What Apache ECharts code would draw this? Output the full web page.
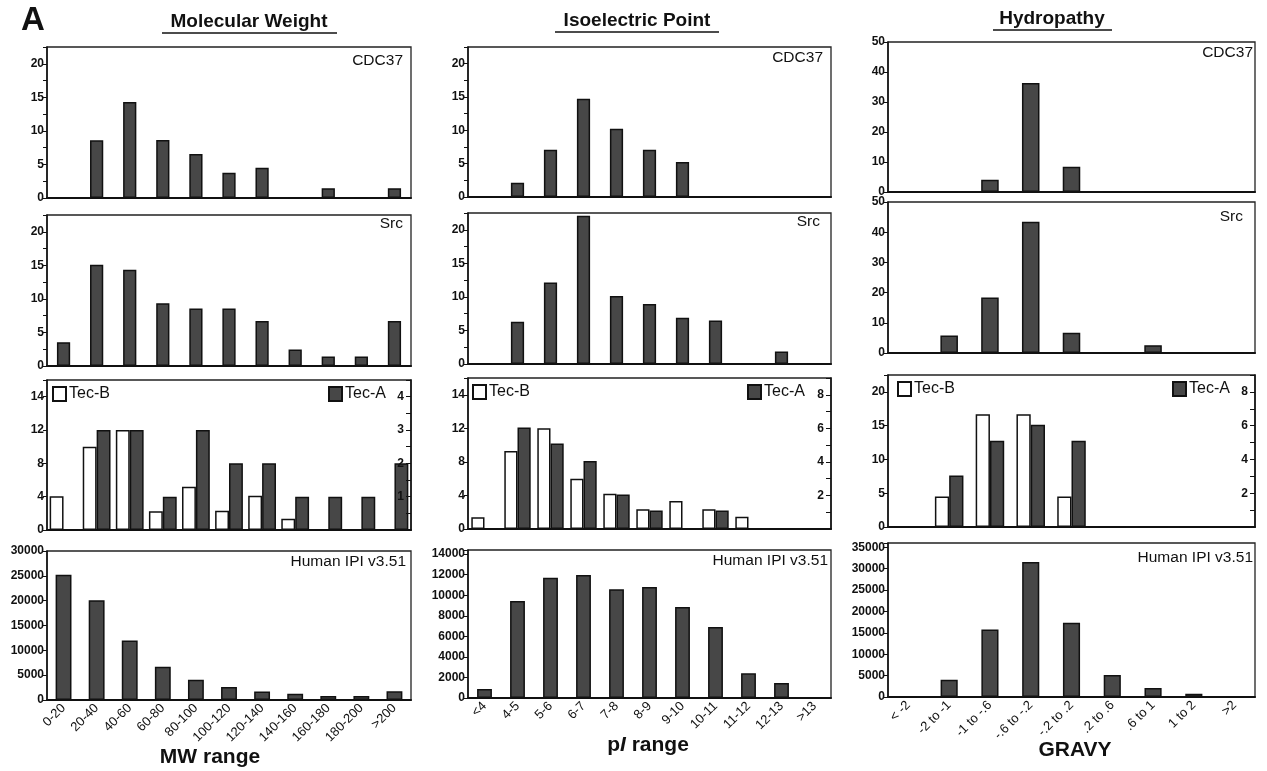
<!DOCTYPE html>
<html>
<head>
<meta charset="utf-8">
<script src="https://cdn.jsdelivr.net/npm/echarts@6/dist/echarts.min.js"></script>
<style>html,body{margin:0;padding:0;background:#fff;}#c{width:1267px;height:771px;}</style>
</head>
<body>
<div id="c"></div>
<script>
// ---------- DATA ----------
const mwCats = ['0-20','20-40','40-60','60-80','80-100','100-120','120-140','140-160','160-180','180-200','>200'];
const mwCdc37 = [0, 8.6, 14.3, 8.65, 6.55, 3.75, 4.5, 0, 1.45, 0, 1.45];
const mwSrc = [3.55, 15.1, 14.35, 9.35, 8.55, 8.55, 6.7, 2.45, 1.4, 1.4, 6.7];
const mwTecB = [4.05, 10, 12, 2.25, 5.2, 2.3, 4.1, 1.35, 0, 0, 0];
const mwTecA = [0, 3, 3, 1, 3, 2, 2, 1, 1, 1, 2];
const mwIpi = [25200, 20100, 12000, 6700, 4100, 2600, 1700, 1250, 800, 800, 1750];

const piCats = ['<4','4-5','5-6','6-7','7-8','8-9','9-10','10-11','11-12','12-13','>13'];
const piCdc37 = [0, 2.15, 7.1, 14.75, 10.25, 7.1, 5.25, 0, 0, 0, 0];
const piSrc = [0, 6.3, 12.15, 22.1, 10.15, 8.95, 6.9, 6.5, 0, 1.85, 0];
const piTecB = [1.4, 9.3, 12, 6, 4.2, 2.35, 3.35, 2.35, 1.45, 0, 0];
const piTecA = [0, 6.05, 5.1, 4.05, 2.05, 1.1, 0, 1.1, 0, 0, 0];
const piIpi = [875, 9430, 11700, 11960, 10570, 10790, 8850, 6900, 2400, 1460, 0];

const gvCats = ['< -2','-2 to -1','-1 to -.6','-.6 to -.2','-.2 to .2','.2 to .6','.6 to 1','1 to 2','>2'];
const gvCdc37 = [0, 0, 4.1, 36.3, 8.4, 0, 0, 0, 0];
const gvSrc = [0, 5.8, 18.4, 43.5, 6.7, 0, 2.6, 0, 0];
const gvTecB = [0, 4.5, 16.7, 16.7, 4.5, 0, 0, 0, 0];
const gvTecA = [0, 3.05, 5.1, 6.05, 5.1, 0, 0, 0, 0];
const gvIpi = [0, 4060, 15780, 31560, 17340, 5160, 2110, 780, 0];

const columnTitles = ['Molecular Weight', 'Isoelectric Point', 'Hydropathy'];
const panelLabels = ['CDC37', 'Src', 'Human IPI v3.51'];
const tecLeftTickValues = [0, 4, 8, 12, 16];
const tecLeftTickLabels = ['0', '4', '8', '12', '14'];

// ---------- LAYOUT ----------
const FONT = "'Liberation Sans', Arial, sans-serif";
const cols = [
  {left: 47, width: 364, rows: [{top:47,h:151},{top:215,h:151},{top:380,h:150},{top:551,h:149}], bw: '40%', bw4: '48%', bw3: '42%'},
  {left: 468, width: 363, rows: [{top:47,h:150},{top:213,h:151},{top:378,h:151},{top:550,h:148}], bw: '40%', bw4: '45%', bw3: '40%'},
  {left: 888, width: 367, rows: [{top:42,h:150},{top:202,h:151},{top:375,h:152},{top:543,h:154}], bw: '43%', bw4: '42%', bw3: '35%'}
];
const colData = [
  {cats: mwCats, cdc: mwCdc37, src: mwSrc, tecB: mwTecB, tecA: mwTecA, ipi: mwIpi},
  {cats: piCats, cdc: piCdc37, src: piSrc, tecB: piTecB, tecA: piTecA, ipi: piIpi},
  {cats: gvCats, cdc: gvCdc37, src: gvSrc, tecB: gvTecB, tecA: gvTecA, ipi: gvIpi}
];
// y-axis scale setup per column: [row1/2, row3 left, row3 right, row4]
const yScales = [
  [{max:22.5, interval:2.5, every:5}, {max:18, interval:4, every:4, map:true}, {max:4.5, interval:0.5, every:1}, {max:30000, interval:5000, every:5000}],
  [{max:22.5, interval:2.5, every:5}, {max:18, interval:4, every:4, map:true}, {max:9, interval:1, every:2}, {max:14400, interval:2000, every:2000}],
  [{max:50, interval:10, every:10}, {max:22.5, interval:5, every:5}, {max:9, interval:1, every:2}, {max:36000, interval:5000, every:5000}]
];

function fmt(sc, hideZero) {
  return function (v) {
    if (v > sc.max - 1e-9 && Math.abs(sc.max / sc.every - Math.round(sc.max / sc.every)) > 1e-6) return '';
    if (Math.abs(v / sc.every - Math.round(v / sc.every)) > 1e-6) return '';
    if (hideZero && v === 0) return '';
    if (sc.map) {
      const i = tecLeftTickValues.indexOf(v);
      return i >= 0 ? tecLeftTickLabels[i] : '';
    }
    return String(v);
  };
}

const grids = [], xAxes = [], yAxes = [], series = [], graphics = [];
const darkStyle = {color: '#474747', borderColor: '#111', borderWidth: 1.5};
const whiteStyle = {color: '#ffffff', borderColor: '#111', borderWidth: 1.5};

cols.forEach((c, ci) => {
  const d = colData[ci];
  c.rows.forEach((r, ri) => {
    const gi = grids.length;
    grids.push({left: c.left, top: r.top, width: c.width, height: r.h, show: true,
      borderColor: '#222', borderWidth: 1.3, backgroundColor: 'transparent', containLabel: false});
    xAxes.push({type: 'category', gridIndex: gi, data: d.cats,
      axisLine: {lineStyle: {color: '#111', width: 2}}, axisTick: {show: false},
      axisLabel: ri === 3 ? {show: true, interval: 0, rotate: 45, fontSize: 13, color: '#111', fontFamily: FONT, margin: 6} : {show: false},
      splitLine: {show: false}});
    const sc = ri < 2 ? yScales[ci][0] : (ri === 2 ? yScales[ci][1] : yScales[ci][3]);
    yAxes.push({type: 'value', gridIndex: gi, min: 0, max: sc.max, interval: sc.interval,
      axisLine: {show: true, lineStyle: {color: '#111', width: 1.5}},
      axisTick: {show: true, length: 4, lineStyle: {color: '#111'}},
      axisLabel: {formatter: fmt(sc, false), fontSize: 12, fontWeight: 'bold', color: '#111', fontFamily: FONT, margin: 3,
        showMaxLabel: true},
      splitLine: {show: false}});
  });
});
// right axes for Tec-A
cols.forEach((c, ci) => {
  const sc = yScales[ci][2];
  yAxes.push({type: 'value', gridIndex: ci * 4 + 2, position: 'right', min: 0, max: sc.max, interval: sc.interval, z: 10,
    axisLine: {show: true, lineStyle: {color: '#111', width: 1.5}},
    axisTick: {show: true, inside: true, length: 5, lineStyle: {color: '#111'}},
    axisLabel: {inside: true, formatter: fmt(sc, true), fontSize: 12, fontWeight: 'bold', color: '#111', fontFamily: FONT, margin: 7},
    splitLine: {show: false}});
});

cols.forEach((c, ci) => {
  const d = colData[ci];
  const base = ci * 4;
  series.push({type: 'bar', name: 'CDC37', xAxisIndex: base, yAxisIndex: base, data: d.cdc, barWidth: c.bw, itemStyle: darkStyle});
  series.push({type: 'bar', name: 'Src', xAxisIndex: base + 1, yAxisIndex: base + 1, data: d.src, barWidth: c.bw, itemStyle: darkStyle});
  series.push({type: 'bar', name: 'Tec-B', xAxisIndex: base + 2, yAxisIndex: base + 2, data: d.tecB, barWidth: c.bw3, barGap: '0%', itemStyle: whiteStyle});
  series.push({type: 'bar', name: 'Tec-A', xAxisIndex: base + 2, yAxisIndex: 12 + ci, data: d.tecA, barWidth: c.bw3, barGap: '0%', itemStyle: darkStyle});
  series.push({type: 'bar', name: 'Human IPI v3.51', xAxisIndex: base + 3, yAxisIndex: base + 3, data: d.ipi, barWidth: c.bw4, itemStyle: darkStyle});
});

// Text: big letter, column titles with underline, panel labels, axis names
function txt(x, y, text, size, weight, align, extra) {
  const st = Object.assign({text: text, x: 0, y: 0, fill: '#111', font: (weight || 'normal') + ' ' + size + 'px ' + FONT,
    textAlign: align || 'left', align: align || 'left', textVerticalAlign: 'middle', verticalAlign: 'middle'}, extra || {});
  return {type: 'text', x: x, y: y, style: st, z: 100};
}
graphics.push(txt(21, 21, 'A', 33, 'bold', 'left'));
const titlePos = [{x: 249, y: 22, u0: 162, u1: 337, uy: 33}, {x: 637, y: 21, u0: 555, u1: 719, uy: 32}, {x: 1052, y: 19, u0: 993, u1: 1112, uy: 30}];
titlePos.forEach((p, i) => {
  graphics.push(txt(p.x, p.y, columnTitles[i], 19, 'bold', 'center'));
  graphics.push({type: 'line', shape: {x1: p.u0, y1: p.uy, x2: p.u1, y2: p.uy}, style: {stroke: '#111', lineWidth: 1.6}, z: 100});
});
const labelPos = [
  [{x: 403, y: 61}, {x: 403, y: 224}, {x: 406, y: 562}],
  [{x: 823, y: 58}, {x: 820, y: 222}, {x: 828, y: 561}],
  [{x: 1253, y: 53}, {x: 1243, y: 217}, {x: 1253, y: 558}]
];
labelPos.forEach(col => col.forEach((p, i) => graphics.push(txt(p.x, p.y, panelLabels[i], 15.5, 'normal', 'right'))));
graphics.push(txt(210, 757, 'MW range', 21, 'bold', 'center'));
graphics.push({type: 'text', x: 648, y: 745, z: 100, style: {text: '{a|p}{b|I}{a| range}', x: 0, y: 0, textAlign: 'center', align: 'center',
  textVerticalAlign: 'middle', verticalAlign: 'middle', fill: '#111',
  rich: {a: {font: 'bold 21px ' + FONT, fill: '#111'}, b: {font: 'italic bold 21px ' + FONT, fill: '#111'}}}});
graphics.push(txt(1075, 750, 'GRAVY', 21, 'bold', 'center'));

const legendPos = [
  {b: 52, a: 328, top: 386},
  {b: 472, a: 747, top: 384},
  {b: 897, a: 1172, top: 381}
];
const legends = [];
legendPos.forEach(p => {
  ['b', 'a'].forEach(k => {
    legends.push({data: [k === 'b' ? 'Tec-B' : 'Tec-A'], left: p[k], top: p.top, padding: 0, icon: 'rect',
      itemWidth: 13, itemHeight: 14, itemGap: 5, selectedMode: false,
      textStyle: {fontSize: 16, color: '#111', fontFamily: FONT, padding: [0, 0, 0, -2]}});
  });
});

const chart = echarts.init(document.getElementById('c'), null, {renderer: 'canvas'});
chart.setOption({
  animation: false,
  backgroundColor: '#ffffff',
  textStyle: {fontFamily: FONT},
  grid: grids, xAxis: xAxes, yAxis: yAxes, series: series,
  legend: legends,
  graphic: graphics
});
</script>
</body>
</html>
